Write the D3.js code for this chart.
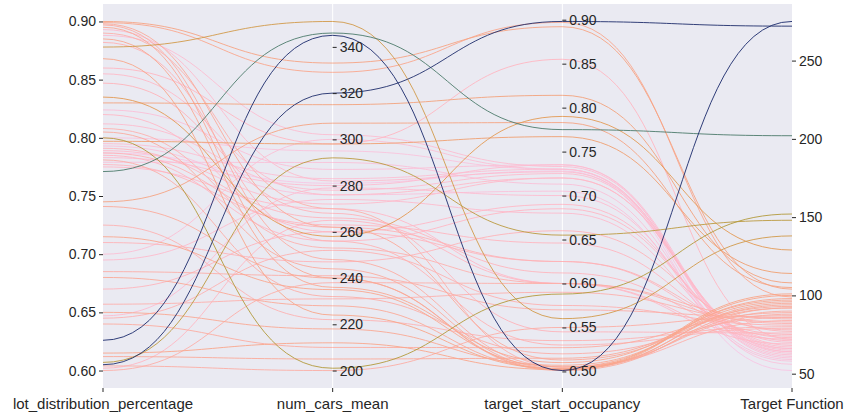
<!DOCTYPE html>
<html>
<head>
<meta charset="utf-8">
<script src="https://cdn.jsdelivr.net/npm/d3@7"></script>
<style>
  body { margin: 0; background: #fff; }
  svg { display: block; font-family: "Liberation Sans", Arial, sans-serif; }
</style>
</head>
<body>
<div id="chart"></div>
<script>
const width = 844;
const height = 416;
const marginTop = 4;
const marginRight = 52;
const marginBottom = 28;
const marginLeft = 103;

// Axis names (left to right)
const dimensions = ["lot_distribution_percentage", "num_cars_mean", "target_start_occupancy", "Target Function"];

// One entry per trial
const lotDistribution = [0.626, 0.605, 0.771, 0.607, 0.800, 0.878, 0.835, 0.900, 0.899, 0.898,
  0.897, 0.895, 0.893, 0.890, 0.888, 0.885, 0.882, 0.868, 0.860, 0.855,
  0.847, 0.830, 0.824, 0.820, 0.812, 0.808, 0.805, 0.797, 0.795, 0.793,
  0.791, 0.789, 0.787, 0.785, 0.783, 0.781, 0.779, 0.777, 0.775, 0.745,
  0.741, 0.725, 0.715, 0.710, 0.700, 0.695, 0.685, 0.680, 0.670, 0.657,
  0.650, 0.647, 0.645, 0.640, 0.615, 0.612, 0.604, 0.602, 0.600, 0.787, 0.800];
const numCarsMean = [345, 320, 346, 292, 201, 351, 258, 333, 329, 262,
  248, 240, 282, 270, 302, 236, 256, 224, 298, 276,
  268, 315, 287, 260, 278, 253, 244, 298, 283, 276,
  266, 272, 262, 256, 280, 232, 290, 263, 270, 307,
  240, 222, 235, 247, 300, 274, 241, 228, 260, 231,
  218, 279, 252, 210, 212, 205, 200, 265, 238, 281, 295];
const targetStartOccupancy = [0.501, 0.898, 0.775, 0.655, 0.588, 0.560, 0.790, 0.892, 0.897, 0.513,
  0.505, 0.502, 0.727, 0.505, 0.733, 0.510, 0.530, 0.503, 0.855, 0.720,
  0.545, 0.814, 0.735, 0.690, 0.725, 0.600, 0.503, 0.767, 0.730, 0.705,
  0.612, 0.720, 0.625, 0.685, 0.735, 0.520, 0.713, 0.646, 0.600, 0.783,
  0.501, 0.535, 0.505, 0.660, 0.730, 0.680, 0.570, 0.503, 0.625, 0.590,
  0.507, 0.700, 0.575, 0.527, 0.502, 0.515, 0.550, 0.600, 0.600, 0.728, 0.730];
const targetFunction = [275, 272, 202, 148, 152, 138, 129, 104, 99, 92,
  88, 95, 66, 84, 63, 97, 79, 101, 72, 68,
  76, 108, 60, 70, 65, 82, 90, 114, 62, 58,
  74, 67, 78, 71, 64, 86, 59, 73, 69, 105,
  92, 80, 98, 77, 61, 66, 86, 94, 75, 83,
  96, 64, 81, 89, 100, 93, 87, 72, 85, 52, 56];

// Tick values per axis
const tickValues = [
  [0.60, 0.65, 0.70, 0.75, 0.80, 0.85, 0.90],
  [200, 220, 240, 260, 280, 300, 320, 340],
  [0.50, 0.55, 0.60, 0.65, 0.70, 0.75, 0.80, 0.85, 0.90],
  [50, 100, 150, 200, 250]
];
const tickFormats = [".2f", "d", ".2f", "d"];

// Colour ramp over the target value
const colorStops = [52, 70, 100, 130, 152, 202, 275];
const colorRange = ["#f7c7e4", "#ffb8c6", "#f9a68c", "#e29a52", "#b29a3c", "#4d7b6b", "#1b2a6b"];

const columns = [lotDistribution, numCarsMean, targetStartOccupancy, targetFunction];
const data = targetFunction.map((_, i) => columns.map(c => c[i]))
  .sort((a, b) => a[3] - b[3]);

const svg = d3.select("#chart").append("svg")
  .attr("width", width)
  .attr("height", height);

const x = d3.scalePoint()
  .domain(d3.range(dimensions.length))
  .range([marginLeft, width - marginRight]);

// each axis spans its data range padded by 5% on both ends
const y = columns.map(col => {
  const [lo, hi] = d3.extent(col);
  const pad = (hi - lo) * 0.05;
  return d3.scaleLinear().domain([lo - pad, hi + pad]).range([height - marginBottom, marginTop]);
});

const color = d3.scaleLinear()
  .domain(colorStops)
  .range(colorRange)
  .interpolate(d3.interpolateLab);

// Background
svg.append("rect")
  .attr("x", marginLeft)
  .attr("y", marginTop)
  .attr("width", width - marginRight - marginLeft)
  .attr("height", height - marginBottom - marginTop)
  .attr("fill", "#eaeaf2");

// White grid lines at the inner axes
svg.append("g")
  .attr("stroke", "#fff")
  .attr("stroke-width", 1)
  .selectAll("line")
  .data(d3.range(1, dimensions.length - 1))
  .join("line")
  .attr("x1", d => x(d))
  .attr("x2", d => x(d))
  .attr("y1", marginTop)
  .attr("y2", height - marginBottom);

// Lines
const line = d3.line().curve(d3.curveBumpX);
svg.append("g")
  .attr("fill", "none")
  .attr("stroke-width", 1)
  .selectAll("path")
  .data(data)
  .join("path")
  .attr("stroke", d => color(d[3]))
  .attr("stroke-opacity", 0.9)
  .attr("d", d => line(d.map((v, k) => [x(k), y[k](v)])));

// Vertical axes
dimensions.forEach((name, k) => {
  const axis = (k === 0 ? d3.axisLeft(y[k]) : d3.axisRight(y[k]))
    .tickValues(tickValues[k])
    .tickFormat(d3.format(tickFormats[k]))
    .tickSize(4)
    .tickPadding(3);
  svg.append("g")
    .attr("transform", `translate(${x(k)},0)`)
    .call(axis)
    .call(g => g.select(".domain").remove())
    .call(g => g.selectAll("line").attr("stroke", "#262626"))
    .call(g => g.selectAll("text")
      .attr("fill", "#262626")
      .attr("font-size", 14)
      .attr("font-family", "Liberation Sans, Arial, sans-serif"));
});

// Bottom ticks and axis names
const bottom = svg.append("g")
  .attr("transform", `translate(0,${height - marginBottom})`);
bottom.selectAll("line")
  .data(dimensions)
  .join("line")
  .attr("x1", (d, k) => x(k))
  .attr("x2", (d, k) => x(k))
  .attr("y1", 0)
  .attr("y2", 4)
  .attr("stroke", "#262626");
bottom.selectAll("text")
  .data(dimensions)
  .join("text")
  .attr("x", (d, k) => x(k))
  .attr("y", 21)
  .attr("text-anchor", "middle")
  .attr("fill", "#262626")
  .attr("font-size", 15)
  .text(d => d);
</script>
</body>
</html>
